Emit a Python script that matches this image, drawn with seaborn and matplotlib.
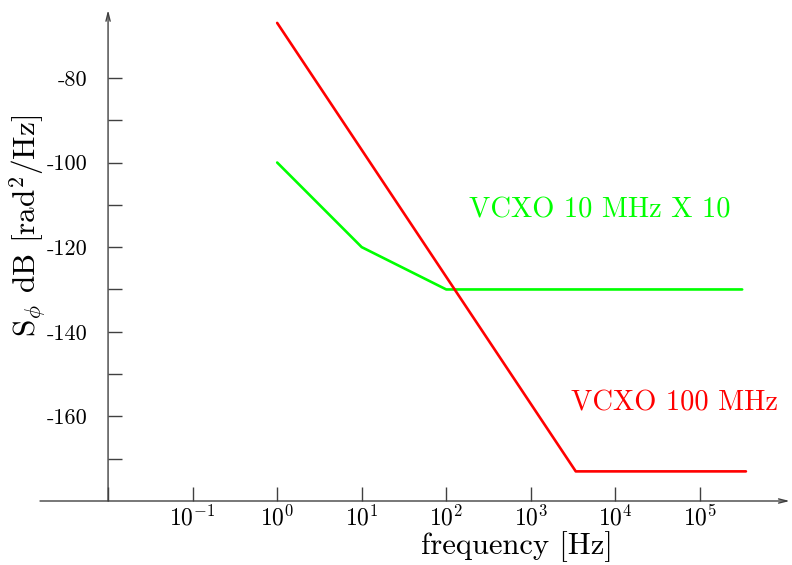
import matplotlib
matplotlib.use("Agg")
import matplotlib.pyplot as plt
from matplotlib.ticker import FixedLocator, NullLocator
import numpy as np
import pandas as pd
import seaborn as sns

# phase noise asymptotes
red_freq = [1, 3400, 3.5e5]
red_db = [-67, -173, -173]
green_freq = [1, 10, 100, 3.16e5]
green_db = [-100, -120, -130, -130]

xtick_pos = [1e-2, 1e-1, 1e0, 1e1, 1e2, 1e3, 1e4, 1e5]
xtick_lab = ["", r"$10^{-1}$", r"$10^{0}$", r"$10^{1}$", r"$10^{2}$", r"$10^{3}$", r"$10^{4}$", r"$10^{5}$"]
ytick_pos = [-160, -140, -120, -100, -80]
ytick_lab = ["-160", "-140", "-120", "-100", "-80"]
yminor_pos = [-170, -150, -130, -110, -90]

sns.set_style("white")
plt.rcParams["font.family"] = "cmr10"
plt.rcParams["mathtext.fontset"] = "cm"
plt.rcParams["axes.unicode_minus"] = False

red = pd.DataFrame({"f": red_freq, "db": red_db})
green = pd.DataFrame({"f": green_freq, "db": green_db})

fig = plt.figure(figsize=(7.92, 5.65), dpi=100)
ax = fig.add_axes([40 / 792, 64 / 565, 752 / 792, 491 / 565])
ax.set_xscale("log")

sns.lineplot(data=green, x="f", y="db", color="#00ff00", lw=1.9, ax=ax)
sns.lineplot(data=red, x="f", y="db", color="#ff0000", lw=1.9, ax=ax)

ax.set_xlim(10 ** -2.805, 10 ** 6.089)
ax.set_ylim(-180, -63.95)

axcol = "#404040"
for s in ax.spines.values():
    s.set_visible(False)
ax.spines["left"].set_position(("data", 1e-2))

# axes with arrow heads
ax.annotate("", xy=(1e-2, -63.95), xytext=(1e-2, -180), xycoords="data",
            arrowprops=dict(arrowstyle="->,head_length=0.6,head_width=0.15", lw=1, color=axcol,
                            shrinkA=0, shrinkB=0))
ax.annotate("", xy=(0.997, 0), xytext=(0, 0), xycoords="axes fraction",
            arrowprops=dict(arrowstyle="->,head_length=0.6,head_width=0.15", lw=1, color=axcol,
                            shrinkA=0, shrinkB=0))

ax.xaxis.set_major_locator(FixedLocator(xtick_pos))
ax.xaxis.set_minor_locator(NullLocator())
ax.set_xticklabels(xtick_lab)
ax.yaxis.set_major_locator(FixedLocator(ytick_pos))
ax.yaxis.set_minor_locator(FixedLocator(yminor_pos))
ax.set_yticklabels(ytick_lab)
ax.tick_params(axis="both", which="both", direction="in", length=10, width=1, color=axcol,
               labelcolor="black", left=True, bottom=True)
ax.tick_params(axis="y", which="both", pad=15, labelsize=16)
ax.tick_params(axis="x", which="both", pad=3, labelsize=17)

ax.set_xlabel("")
ax.set_ylabel("")

ax.text(10 ** 2.27, -111.2, "VCXO 10 MHz X 10", color="#00ff00", fontsize=20.5, va="center", ha="left")
ax.text(10 ** 3.47, -156.9, "VCXO 100 MHz", color="#ff0000", fontsize=20.5, va="center", ha="left")

fig.text(517 / 792, 1 - 547 / 565, "frequency [Hz]", fontsize=22, ha="center", va="center",
         color="black")
fig.text(28 / 792, 1 - 226 / 565, r"S$_\phi$ dB [rad$^2$/Hz]", fontsize=22.5, ha="center",
         va="center", rotation=90, color="black")

fig.savefig("out.png", dpi=100)
